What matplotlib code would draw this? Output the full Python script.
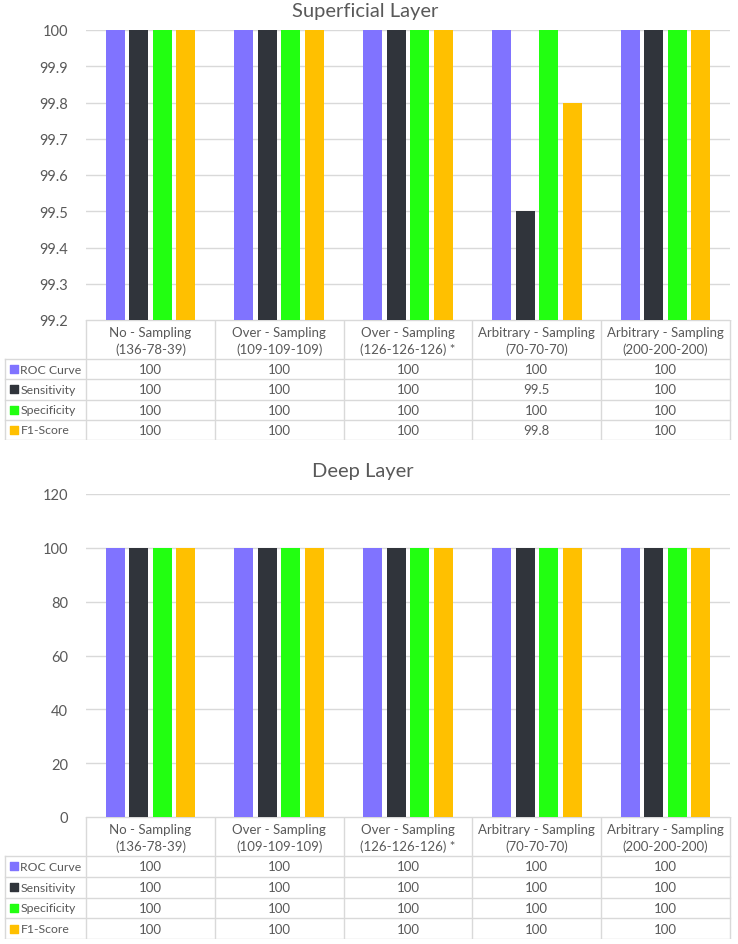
import matplotlib.pyplot as plt
import numpy as np

plt.rcParams['font.family'] = ['Lato', 'DejaVu Sans']

categories = ["No - Sampling\n(136-78-39)", "Over - Sampling\n(109-109-109)",
              "Over - Sampling\n(126-126-126) *", "Arbitrary - Sampling\n(70-70-70)",
              "Arbitrary - Sampling\n(200-200-200)"]
metrics = ["ROC Curve", "Sensitivity", "Specificity", "F1-Score"]
colors = ["#8073FF", "#30343B", "#22FF11", "#FFC000"]

superficial = {
    "ROC Curve": [100, 100, 100, 100, 100],
    "Sensitivity": [100, 100, 100, 99.5, 100],
    "Specificity": [100, 100, 100, 100, 100],
    "F1-Score": [100, 100, 100, 99.8, 100],
}
deep = {
    "ROC Curve": [100, 100, 100, 100, 100],
    "Sensitivity": [100, 100, 100, 100, 100],
    "Specificity": [100, 100, 100, 100, 100],
    "F1-Score": [100, 100, 100, 100, 100],
}

W, H = 738, 945
TXT = "#595959"
GRID = "#D9D9D9"
TFS = 9.5  # table font size


def fx(px):
    return px / W


def fy(py):
    return 1 - py / H


def panel(fig, data, title, title_x, title_y, top, bottom, ylim, yticks, tbl_bottom):
    ax = fig.add_axes([fx(86), fy(bottom), fx(730 - 86), (bottom - top) / H])
    x = np.arange(len(categories)) + 0.5
    step, width = 0.1825, 0.147
    for k, m in enumerate(metrics):
        vals = np.array(data[m])
        ax.bar(x + (k - 1.5) * step, vals - ylim[0], width, bottom=ylim[0],
               color=colors[k], zorder=3)
    ax.set_xlim(0, len(categories))
    ax.set_ylim(*ylim)
    ax.set_yticks(yticks)
    ax.set_yticklabels([f"{t:g}" for t in yticks])
    ax.set_xticks([])
    ax.grid(axis="y", color=GRID, lw=1, zorder=0)
    for s in ax.spines.values():
        s.set_visible(False)
    ax.tick_params(axis="y", length=0, pad=13, labelsize=10.5, labelcolor=TXT)
    fig.text(fx(title_x), fy(title_y), title, ha="center", va="center",
             fontsize=14.5, color=TXT)

    # data table under the bars, same x scale as the bar axes
    tx = fig.add_axes([0, fy(tbl_bottom), 1, (tbl_bottom - bottom) / H])
    tx.set_xlim(0, W)
    tx.set_ylim(tbl_bottom, bottom)
    tx.axis("off")
    col_w = (730 - 86) / len(categories)
    hdr = bottom + 39
    row_h = (tbl_bottom - hdr) / len(metrics)
    for i in range(len(categories) + 1):
        xx = 86 + i * col_w
        tx.plot([xx, xx], [bottom, tbl_bottom], color=GRID, lw=1)
    tx.plot([5, 5], [hdr, tbl_bottom], color=GRID, lw=1)
    tx.plot([86, 730], [bottom, bottom], color=GRID, lw=1)
    for r in range(len(metrics) + 1):
        yy = hdr + r * row_h
        tx.plot([5, 730], [yy, yy], color=GRID, lw=1)
    for i, c in enumerate(categories):
        tx.text(86 + (i + 0.5) * col_w, bottom + 20.5, c, ha="center", va="center",
                fontsize=TFS, color=TXT, linespacing=1.4)
    for r, m in enumerate(metrics):
        yc = hdr + (r + 0.5) * row_h
        tx.scatter([13.5], [yc], marker="s", s=36, color=colors[r])
        tx.text(20.5, yc, m, ha="left", va="center", fontsize=8.8, color=TXT)
        for i, v in enumerate(data[m]):
            tx.text(86 + (i + 0.5) * col_w, yc, f"{v:g}", ha="center", va="center",
                    fontsize=TFS, color=TXT)


fig = plt.figure(figsize=(W / 100, H / 100), dpi=100)
panel(fig, superficial, "Superficial Layer", 365, 12, 31, 321, (99.2, 100),
      np.round(np.arange(99.2, 100.01, 0.1), 1), 441)
panel(fig, deep, "Deep Layer", 363, 472, 495, 818, (0, 120),
      np.arange(0, 121, 20), 940)
fig.savefig("out.png", dpi=100)
